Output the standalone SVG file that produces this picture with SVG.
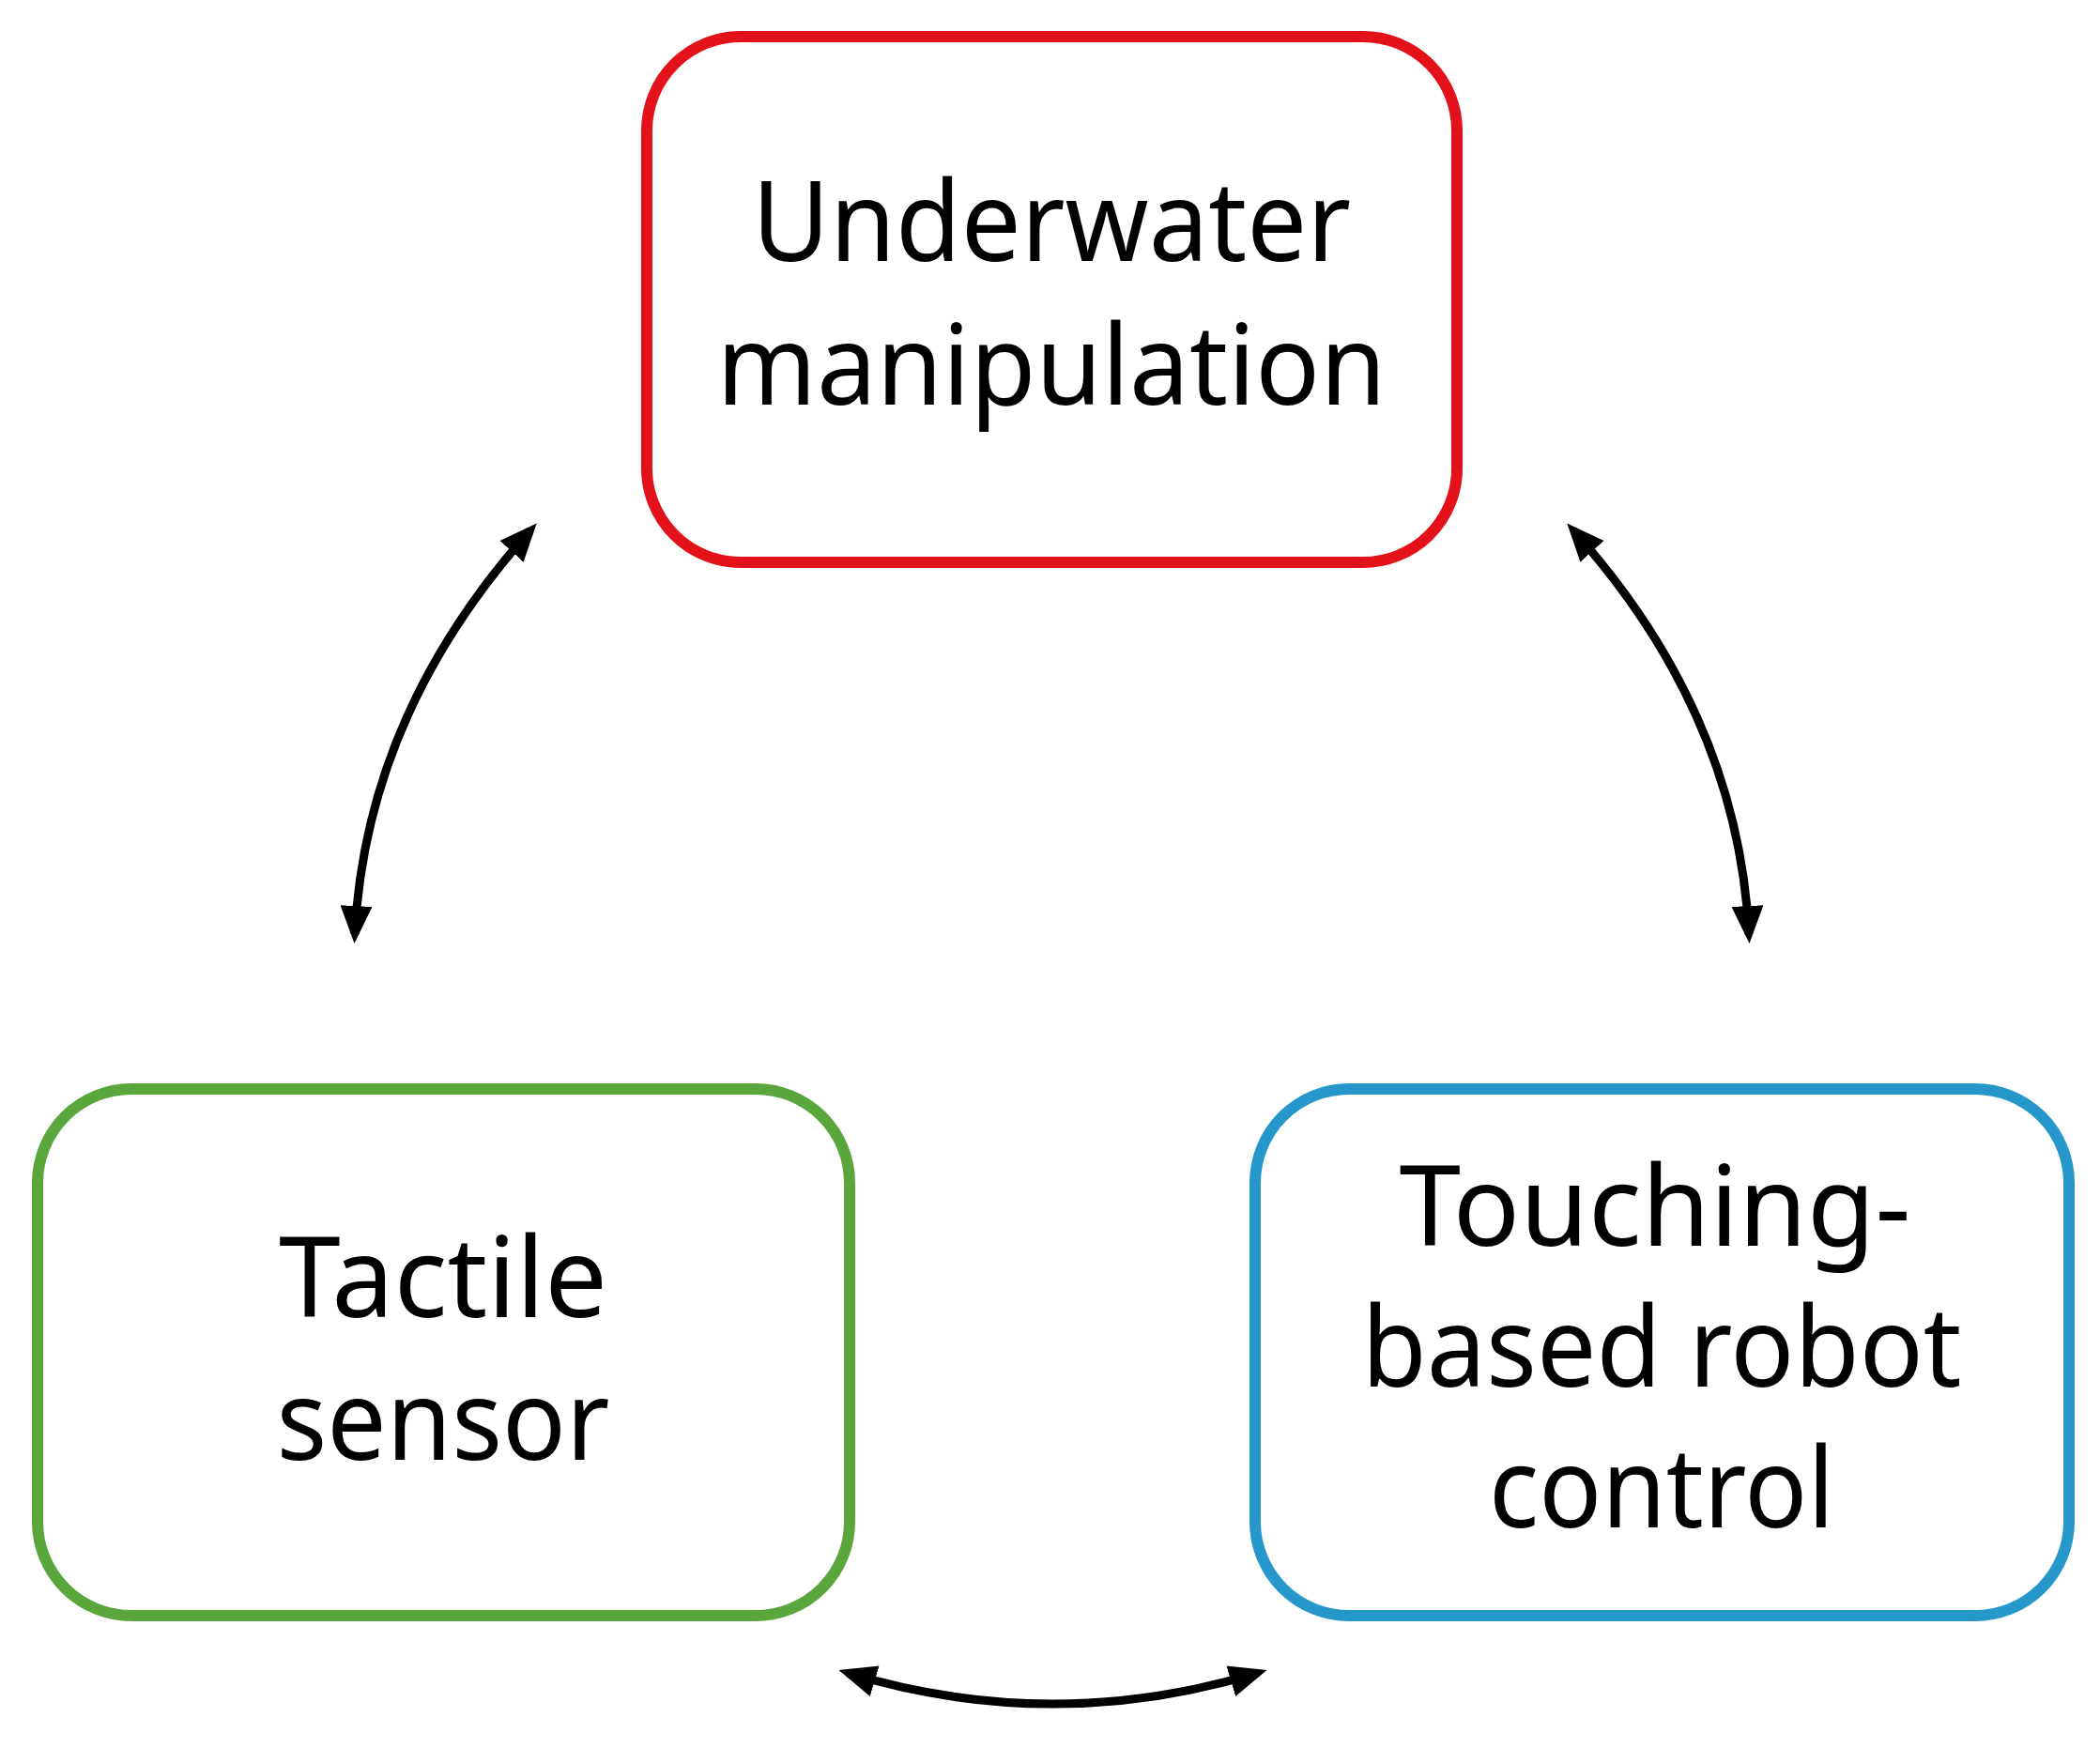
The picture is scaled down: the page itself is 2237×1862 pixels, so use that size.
<svg xmlns="http://www.w3.org/2000/svg" width="2237" height="1862" viewBox="0 0 2237 1862">
<style>
.box{fill:#fff;stroke-width:12}
.t{font-family:"Noto Sans","Liberation Sans",sans-serif;font-size:118px;fill:#000;text-anchor:middle}
.c{fill:none;stroke:#000;stroke-width:9}
</style>
<defs>
<marker id="ah" markerUnits="userSpaceOnUse" markerWidth="40" markerHeight="34" refX="30" refY="17" orient="auto-start-reverse" viewBox="0 0 40 34">
<path d="M0,0 L40,17 L0,34 Z" fill="#000"/>
</marker>
</defs>
<rect width="2237" height="1862" fill="#fff"/>
<g id="underwater">
<rect class="box" x="689" y="39" width="863" height="560" rx="100" stroke="#e3121a"/>
<text class="t" x="1120" y="278" textLength="638" lengthAdjust="spacingAndGlyphs">Underwater</text>
<text class="t" x="1120" y="431" textLength="713" lengthAdjust="spacingAndGlyphs">manipulation</text>
</g>
<g id="tactile">
<rect class="box" x="40" y="1160" width="865" height="561" rx="100" stroke="#5aa63c"/>
<text class="t" x="472" y="1403" textLength="350" lengthAdjust="spacingAndGlyphs">Tactile</text>
<text class="t" x="472" y="1555" textLength="355" lengthAdjust="spacingAndGlyphs">sensor</text>
</g>
<g id="control">
<rect class="box" x="1337" y="1160" width="867" height="561" rx="100" stroke="#2697cb"/>
<text class="t" x="1763" y="1327" textLength="545" lengthAdjust="spacingAndGlyphs">Touching-</text>
<text class="t" x="1770" y="1477" textLength="639" lengthAdjust="spacingAndGlyphs">based robot</text>
<text class="t" x="1770" y="1627" textLength="368" lengthAdjust="spacingAndGlyphs">control</text>
</g>
<g id="connectors">
<path class="c" d="M378,995 Q390,760 565,565" marker-start="url(#ah)" marker-end="url(#ah)"/>
<path class="c" d="M1863,995 Q1851,760 1676,565" marker-start="url(#ah)" marker-end="url(#ah)"/>
<path class="c" d="M903,1782 Q1121,1848 1340,1782" marker-start="url(#ah)" marker-end="url(#ah)"/>
</g>
</svg>
